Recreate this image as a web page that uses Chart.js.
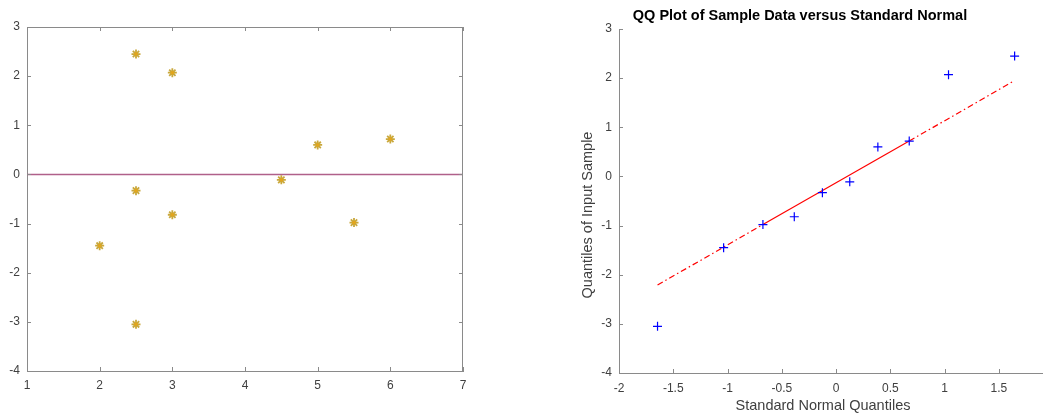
<!DOCTYPE html>
<html>
<head>
<meta charset="utf-8">
<script src="https://cdn.jsdelivr.net/npm/chart.js@4.4.1/dist/chart.umd.min.js"></script>
<style>
  html, body { margin: 0; padding: 0; background: #fff; }
  #left { position: absolute; left: 0; top: 0; width: 480px; height: 415px; }
  #right { position: absolute; left: 560px; top: 0; width: 488px; height: 415px; }
</style>
</head>
<body>
<div id="left"><canvas id="c1"></canvas></div>
<div id="right"><canvas id="c2"></canvas></div>
<script>
// left panel: raw sample vs group
const sampleX = [2, 2.5, 2.5, 2.5, 3, 3, 4.5, 5, 5.5, 6];
const sampleY = [-1.45, 2.45, -0.33, -3.05, 2.07, -0.82, -0.11, 0.60, -0.98, 0.72];
const zeroLineX = [1, 7];
const zeroLineY = [0, 0];
const leftXTicks = [1, 2, 3, 4, 5, 6, 7];
const leftYTicks = [-4, -3, -2, -1, 0, 1, 2, 3];

// right panel: qq plot
const normQuantiles = [-1.645, -1.036, -0.674, -0.385, -0.126, 0.126, 0.385, 0.674, 1.036, 1.645];
const sortedSample = [-3.05, -1.45, -0.98, -0.82, -0.33, -0.11, 0.60, 0.72, 2.07, 2.45];
const fitX = [-1.645, -0.674, 0.674, 1.645];
const fitY = [-2.21, -0.98, 0.72, 1.95];
const rightXTicks = [-2, -1.5, -1, -0.5, 0, 0.5, 1, 1.5];
const rightYTicks = [-4, -3, -2, -1, 0, 1, 2, 3];

const FONT = "'Liberation Sans', Arial, Helvetica, sans-serif";
const AXIS = '#8a8a8a';
const LABEL = '#404040';

const pts = (xs, ys) => xs.map((x, i) => ({ x: x, y: ys[i] }));

// octave style inward ticks (and optional box)
const axisFrame = {
  id: 'axisFrame',
  afterDatasetsDraw(chart, args, opts) {
    const { ctx, chartArea: a, scales } = chart;
    const len = 4;
    ctx.save();
    ctx.strokeStyle = AXIS;
    ctx.lineWidth = 1;
    ctx.beginPath();
    scales.x.ticks.forEach(t => {
      const px = Math.round(scales.x.getPixelForValue(t.value)) + 0.5;
      ctx.moveTo(px, a.bottom); ctx.lineTo(px, a.bottom - len);
      if (opts.box) { ctx.moveTo(px, a.top); ctx.lineTo(px, a.top + len); }
    });
    scales.y.ticks.forEach(t => {
      const py = Math.round(scales.y.getPixelForValue(t.value)) + 0.5;
      ctx.moveTo(a.left, py); ctx.lineTo(a.left + len, py);
      if (opts.box) { ctx.moveTo(a.right, py); ctx.lineTo(a.right - len, py); }
    });
    if (opts.box) {
      ctx.moveTo(a.left, Math.round(a.top) + 0.5); ctx.lineTo(a.right, Math.round(a.top) + 0.5);
      ctx.moveTo(Math.round(a.right) - 0.5, a.top); ctx.lineTo(Math.round(a.right) - 0.5, a.bottom);
    }
    ctx.stroke();
    ctx.restore();
  }
};

// titles placed where octave put them
const labels = {
  id: 'labels',
  afterDraw(chart, args, opts) {
    const ctx = chart.ctx;
    (opts.items || []).forEach(it => {
      ctx.save();
      ctx.font = it.font;
      ctx.fillStyle = it.color;
      ctx.textAlign = 'center';
      ctx.textBaseline = 'middle';
      ctx.translate(it.x, it.y);
      if (it.rotate) ctx.rotate(-Math.PI / 2);
      ctx.fillText(it.text, 0, 0);
      ctx.restore();
    });
  }
};

function scaleOpts(min, max, tickVals, size, pad) {
  return {
    type: 'linear',
    min: min,
    max: max,
    afterBuildTicks: s => { s.ticks = tickVals.map(v => ({ value: v })); },
    afterFit: s => { if (s.isHorizontal()) s.height = size; else s.width = size; },
    grid: { display: false, drawTicks: false },
    border: { display: true, color: AXIS, width: 1 },
    ticks: {
      color: LABEL,
      font: { family: FONT, size: 12 },
      padding: pad,
      autoSkip: false,
      maxRotation: 0,
      callback: v => String(+v)
    }
  };
}

new Chart(document.getElementById('c1'), {
  type: 'scatter',
  data: {
    datasets: [
      {
        type: 'line',
        order: 3,
        data: pts(zeroLineX, zeroLineY),
        borderColor: '#b0608a',
        borderWidth: 1.5,
        pointRadius: 0,
        fill: false
      },
      {
        order: 2,
        data: pts(sampleX, sampleY),
        pointStyle: 'star',
        pointRadius: 4.5,
        borderColor: '#c9a83c',
        borderWidth: 1.8,
        backgroundColor: '#e0a820'
      },
      {
        order: 1,
        data: pts(sampleX, sampleY),
        pointStyle: 'circle',
        pointRadius: 1.8,
        borderWidth: 0,
        backgroundColor: '#e3a51c'
      }
    ]
  },
  options: {
    responsive: true,
    maintainAspectRatio: false,
    animation: false,
    layout: { padding: { left: 0, top: 27, right: 17, bottom: 0 } },
    plugins: { legend: { display: false }, tooltip: { enabled: false }, axisFrame: { box: true } },
    scales: {
      x: scaleOpts(1, 7, leftXTicks, 44, 7),
      y: scaleOpts(-4, 3, leftYTicks, 27, 7)
    }
  },
  plugins: [axisFrame]
});

new Chart(document.getElementById('c2'), {
  type: 'scatter',
  data: {
    datasets: [
      {
        type: 'line',
        order: 2,
        data: pts(fitX, fitY),
        borderColor: '#ff0000',
        borderWidth: 1.2,
        pointRadius: 0,
        fill: false,
        segment: { borderDash: c => (c.p0DataIndex === 1 ? [] : [6, 3, 1.5, 3]) }
      },
      {
        order: 1,
        data: pts(normQuantiles, sortedSample),
        pointStyle: 'cross',
        pointRadius: 4.5,
        borderColor: '#0000ff',
        borderWidth: 1.2
      }
    ]
  },
  options: {
    responsive: true,
    maintainAspectRatio: false,
    animation: false,
    layout: { padding: { left: 0, top: 29, right: 1, bottom: 0 } },
    plugins: {
      legend: { display: false },
      tooltip: { enabled: false },
      axisFrame: { box: false },
      labels: {
        items: [
          { text: 'QQ Plot of Sample Data versus Standard Normal', x: 240, y: 16, font: 'bold 14.5px ' + FONT, color: '#000' },
          { text: 'Standard Normal Quantiles', x: 263, y: 406, font: '14.5px ' + FONT, color: LABEL },
          { text: 'Quantiles of Input Sample', x: 28, y: 215, font: '14.5px ' + FONT, color: LABEL, rotate: true }
        ]
      }
    },
    scales: {
      x: scaleOpts(-2, 1.9, rightXTicks, 42, 8),
      y: scaleOpts(-4, 3, rightYTicks, 59, 7)
    }
  },
  plugins: [axisFrame, labels]
});
</script>
</body>
</html>
